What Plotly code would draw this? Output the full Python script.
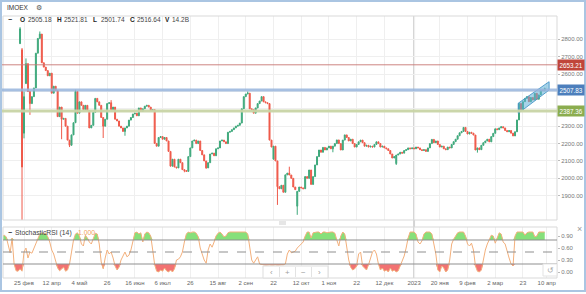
import numpy as np
import pandas as pd
import plotly.graph_objects as go

# ---------------- data ----------------
non_trading_days = ['2022-02-23', '2022-05-02', '2022-05-03', '2022-05-09', '2022-05-10',
                    '2022-06-13', '2022-11-04', '2023-01-02', '2023-02-23', '2023-03-08']
closure_start, closure_end = '2022-02-28', '2022-03-23'
first_day = '2022-02-09'

closes = [
    3780, 3760, 3620, 3440, 3590, 3600, 3490, 3470, 3100, 2860,
    2065, 2470, 2660, 2500, 2430, 2470, 2520, 2720, 2805, 2830,
    2665, 2640, 2620, 2590, 2605, 2490, 2530, 2505, 2355, 2410,
    2340, 2345, 2300, 2220, 2190, 2250, 2320, 2500, 2375, 2440,
    2420, 2395, 2420, 2390, 2290, 2305, 2380, 2460, 2440, 2420,
    2350, 2300, 2340, 2430, 2435, 2395, 2410, 2340, 2330, 2300,
    2290, 2270, 2290, 2300, 2335, 2350, 2370, 2375, 2360, 2405,
    2385, 2400, 2415, 2420, 2410, 2390, 2395, 2201, 2185, 2235,
    2240, 2225, 2235, 2215, 2155, 2070, 2110, 2065, 2060, 2110,
    2090, 2050, 2045, 2040, 2125, 2175, 2215, 2220, 2200, 2215,
    2160, 2135, 2100, 2060, 2090, 2140, 2145, 2130, 2170, 2175,
    2215, 2220, 2210, 2200, 2265, 2270, 2280, 2290, 2300, 2305,
    2318, 2400, 2470, 2485, 2490, 2400, 2395, 2375, 2405, 2430,
    2445, 2470, 2440, 2435, 2430, 2220, 2180, 2185, 2100, 1952,
    1940, 1960, 1920, 2020, 2030, 2019, 2000, 1950, 1935, 1925,
    1950, 1945, 1940, 2010, 2000, 2048, 1965, 2010, 2077, 2125,
    2163, 2150, 2178, 2163, 2175, 2185, 2170, 2185, 2200, 2221,
    2200, 2163, 2220, 2250, 2235, 2215, 2225, 2200, 2180, 2195,
    2210, 2220, 2205, 2185, 2190, 2180, 2185, 2180, 2195, 2210,
    2200, 2180, 2185, 2175, 2170, 2160, 2140, 2117, 2125, 2134,
    2140, 2150, 2145, 2160, 2165, 2175, 2170, 2175, 2170, 2180,
    2175, 2165, 2160, 2165, 2155, 2175, 2200, 2224, 2205, 2215,
    2195, 2180, 2185, 2170, 2165, 2180, 2175, 2195, 2211, 2225,
    2245, 2262, 2270, 2293, 2270, 2255, 2265, 2260, 2249, 2163,
    2175, 2165, 2190, 2205, 2215, 2225, 2210, 2240, 2259, 2285,
    2280, 2290, 2297, 2290, 2275, 2268, 2275, 2260, 2244, 2268,
    2336, 2431, 2393, 2441, 2460, 2470, 2441, 2465, 2451, 2489,
    2455, 2480, 2508, 2505.18, 2516.64,
]
open_overrides = {0: 3800, 9: 2775, 10: 2740, 11: 2260, 12: 2545, 137: 2110, 149: 1840, 199: 2085}
high_overrides = {9: 2870, 10: 2750, 11: 2500, 12: 2690, 19: 2845, 37: 2510, 55: 2450,
                  124: 2500, 145: 2067, 262: 2431, 274: 2521.81}
low_overrides = {10: 1681, 11: 2230, 14: 2365, 30: 2225, 34: 2180, 51: 2232, 62: 2245,
                 92: 2035, 103: 2055, 139: 1847, 149: 1790, 167: 2150, 199: 2077,
                 240: 2148, 274: 2501.74}
last_volume = '14.2B'

stoch_rsi = [
    0.90, 0.92, 0.88, 0.65, 0.48, 0.85, 0.20, 0.03, 0.02, 0.08,
    0.02, 0.50, 0.60, 0.35, 0.50, 0.47, 0.60, 0.72, 0.82, 0.95,
    0.98, 0.95, 0.97, 0.88, 0.75, 0.55, 0.45, 0.25, 0.10, 0.03,
    0.08, 0.12, 0.02, 0.05, 0.20, 0.55, 0.80, 0.95, 0.98, 0.90,
    0.70, 0.65, 0.92, 0.85, 0.75, 0.70, 0.82, 0.97, 0.95, 0.70,
    0.25, 0.08, 0.35, 0.55, 0.45, 0.50, 0.35, 0.15, 0.05, 0.12,
    0.30, 0.40, 0.50, 0.38, 0.42, 0.55, 0.80, 0.98, 1.00, 0.95,
    0.98, 0.75, 0.95, 1.00, 0.98, 0.90, 0.55, 0.18, 0.02, 0.00,
    0.05, 0.02, 0.10, 0.03, 0.00, 0.05, 0.00, 0.08, 0.30, 0.32,
    0.38, 0.50, 0.75, 0.95, 1.00, 0.98, 1.00, 1.00, 0.97, 0.88,
    0.60, 0.42, 0.30, 0.22, 0.55, 0.70, 0.62, 0.75, 0.90, 0.97,
    1.00, 0.95, 0.88, 0.90, 0.98, 1.00, 1.00, 1.00, 1.00, 1.00,
    1.00, 1.00, 1.00, 1.00, 0.95, 0.60, 0.30, 0.22, 0.30, 0.38,
    0.20, 0.18, 0.18, 0.17, 0.18, 0.18, 0.17, 0.18, 0.18, 0.17,
    0.18, 0.18, 0.18, 0.20, 0.45, 0.55, 0.48, 0.50, 0.52, 0.60,
    0.65, 0.70, 0.75, 0.90, 1.00, 1.00, 0.85, 0.98, 1.00, 1.00,
    1.00, 0.95, 1.00, 1.00, 0.98, 1.00, 1.00, 1.00, 0.97, 0.80,
    0.65, 0.90, 1.00, 0.95, 0.60, 0.30, 0.12, 0.05, 0.08, 0.15,
    0.45, 0.50, 0.15, 0.10, 0.05, 0.18, 0.35, 0.50, 0.55, 0.45,
    0.20, 0.05, 0.10, 0.02, 0.05, 0.00, 0.10, 0.02, 0.05, 0.00,
    0.03, 0.15, 0.25, 0.40, 0.60, 0.85, 1.00, 1.00, 1.00, 0.95,
    0.75, 0.70, 0.78, 0.95, 1.00, 1.00, 1.00, 0.95, 0.70, 0.45,
    0.05, 0.00, 0.15, 0.10, 0.00, 0.05, 0.30, 0.70, 0.82, 0.90,
    0.98, 1.00, 1.00, 1.00, 0.90, 0.70, 0.65, 0.72, 0.55, 0.15,
    0.02, 0.00, 0.05, 0.35, 0.55, 0.70, 0.80, 0.92, 0.90, 0.72,
    0.85, 0.98, 0.95, 0.75, 0.70, 0.50, 0.35, 0.20, 0.15, 0.90,
    1.00, 1.00, 1.00, 1.00, 0.92, 0.98, 1.00, 1.00, 1.00, 0.88,
    0.90, 1.00, 1.00, 1.00, 1.000,
]
stoch_levels = [0.8, 0.5, 0.2]

price_levels = [2653.21, 2507.83, 2387.36]
level_line_colors = ['rgba(200,120,115,0.9)', 'rgba(150,180,220,0.85)', 'rgba(200,212,165,0.95)']
level_line_widths = [1, 3, 3]
level_box_colors = ['#c0453a', '#4d7fbc', '#8bad4f']

channel_x = [260.6, 276.2]
channel_low = [2374, 2508]
channel_high = [2432, 2556]

tick_dates = ['2022-02-25', '2022-04-12', '2022-05-04', '2022-05-26', '2022-06-16', '2022-07-06',
              '2022-07-26', '2022-08-15', '2022-09-02', '2022-09-22', '2022-10-12', '2022-11-01',
              '2022-11-22', '2022-12-12', '2023-01-03', '2023-01-20', '2023-02-09', '2023-03-02',
              '2023-03-23', '2023-04-10']
tick_text = ['25 фев', '12 апр', '4 май', '26', '16 июн', '6 июл', '26', '15 авг', '2 сен', '22',
             '12 окт', '1 ноя', '22', '12 дек', '2023', '20 янв', '9 фев', '2 мар', '23', '10 апр']
year_break = '2023-01-03'
price_ticks = [1900, 2000, 2100, 2200, 2300, 2400, 2500, 2600, 2700, 2800]
stoch_ticks = [0.0, 0.3, 0.6, 0.9]

# ---------------- derived ----------------
closed = set(pd.to_datetime(non_trading_days)) | set(pd.bdate_range(closure_start, closure_end))
cal = [d for d in pd.bdate_range(first_day, '2023-04-28') if d not in closed]
pos = {d.strftime('%Y-%m-%d'): i for i, d in enumerate(cal)}

n = len(closes)
xi = np.arange(n)
c = np.array(closes, dtype=float)
o = np.concatenate([[c[0]], c[:-1]])
for k, v in open_overrides.items():
    o[k] = v
h = np.maximum(o, c)
lo = np.minimum(o, c)
for k, v in high_overrides.items():
    h[k] = v
for k, v in low_overrides.items():
    lo[k] = v

s = np.array(stoch_rsi, dtype=float)
sx = np.arange(len(s))

# ---------------- geometry helpers ----------------
W, H = 586, 294
L, R, T, B = 3, 557, 16, 278
PW, PH = R - L, B - T


def px(xp):
    return (xp - L) / PW


def py(yp):
    return (B - yp) / PH


GREEN = '#3fa97c'
RED = '#ef5a4b'
FONT = 'Liberation Sans, Arial, sans-serif'

fig = go.Figure()

fig.add_trace(go.Candlestick(
    x=xi, open=o, high=h, low=lo, close=c,
    increasing=dict(line=dict(color=GREEN, width=1), fillcolor=GREEN),
    decreasing=dict(line=dict(color=RED, width=1), fillcolor=RED),
    whiskerwidth=0, showlegend=False, hoverinfo='skip', xaxis='x', yaxis='y'))

# channel drawing
fig.add_trace(go.Scatter(
    x=[channel_x[0], channel_x[1], channel_x[1], channel_x[0], channel_x[0]],
    y=[channel_low[0], channel_low[1], channel_high[1], channel_high[0], channel_low[0]],
    mode='lines', fill='toself', fillcolor='rgba(95,175,215,0.55)',
    line=dict(color='rgba(70,150,200,0.9)', width=1),
    showlegend=False, hoverinfo='skip', xaxis='x', yaxis='y'))

# stoch fills
up, mid, dn = stoch_levels
fig.add_trace(go.Scatter(x=sx, y=np.full(len(s), up), mode='lines', line=dict(width=0),
                         showlegend=False, hoverinfo='skip', xaxis='x2', yaxis='y2'))
fig.add_trace(go.Scatter(x=sx, y=np.maximum(s, up), mode='lines', line=dict(width=0),
                         fill='tonexty', fillcolor='#86e07a',
                         showlegend=False, hoverinfo='skip', xaxis='x2', yaxis='y2'))
fig.add_trace(go.Scatter(x=sx, y=np.full(len(s), dn), mode='lines', line=dict(width=0),
                         showlegend=False, hoverinfo='skip', xaxis='x2', yaxis='y2'))
fig.add_trace(go.Scatter(x=sx, y=np.minimum(s, dn), mode='lines', line=dict(width=0),
                         fill='tonexty', fillcolor='#f27272',
                         showlegend=False, hoverinfo='skip', xaxis='x2', yaxis='y2'))
fig.add_trace(go.Scatter(x=sx, y=s, mode='lines', line=dict(color='#f3b07c', width=1),
                         showlegend=False, hoverinfo='skip', xaxis='x2', yaxis='y2'))

tickvals = [pos[d] for d in tick_dates]
x_left = 11 + (L - 24) / 1.98
x_right = 11 + (R - 24) / 1.98
price_top = 2800 + (39.3 - T) * 5.754
price_bot = 2800 - (220 - 39.3) * 5.754

main_dom = [py(220), 1]
st_dom = [0, py(227)]


def price_label(v):
    # labels hidden behind the level boxes are left blank
    for lvl in price_levels:
        if abs(v - lvl) < 30:
            return ''
    return f'{v:.2f}'


fig.update_layout(
    width=W, height=H, margin=dict(l=L, r=W - R, t=T, b=H - B),
    paper_bgcolor='white', plot_bgcolor='white',
    font=dict(family=FONT, size=6, color='#666'),
    showlegend=False,
    xaxis=dict(domain=[0, 1], range=[x_left, x_right], anchor='y',
               tickvals=tickvals, showticklabels=False, ticks='',
               showgrid=True, gridcolor='#efefef', gridwidth=1, zeroline=False,
               rangeslider=dict(visible=False)),
    xaxis2=dict(domain=[0, 1], range=[x_left, x_right], anchor='y2', matches='x',
                tickvals=tickvals, ticktext=tick_text, ticks='',
                tickfont=dict(size=6, color='#666'),
                showgrid=True, gridcolor='#efefef', zeroline=False),
    yaxis=dict(domain=main_dom, range=[price_bot, price_top], side='right', anchor='x',
               tickvals=price_ticks, ticktext=[price_label(v) for v in price_ticks],
               ticks='outside', ticklen=2, tickcolor='#bbb',
               tickfont=dict(size=6, color='#777'),
               showgrid=True, gridcolor='#efefef', zeroline=False),
    yaxis2=dict(domain=st_dom, range=[-0.15, 1.125], side='right', anchor='x2',
                tickvals=stoch_ticks, ticktext=[f'{v:.2f}' for v in stoch_ticks],
                ticks='outside', ticklen=2, tickcolor='#bbb',
                tickfont=dict(size=6, color='#777'),
                showgrid=False, zeroline=False),
)

shapes = []
# pane borders
for y0, y1 in [(16, 220), (227, 278)]:
    shapes.append(dict(type='rect', xref='paper', yref='paper', x0=px(L), x1=px(R),
                       y0=py(y1), y1=py(y0), line=dict(color='#d9d9d9', width=1),
                       fillcolor='rgba(0,0,0,0)', layer='above'))
# year separator
shapes.append(dict(type='line', xref='x', yref='paper', x0=pos[year_break], x1=pos[year_break],
                   y0=0, y1=1, line=dict(color='#d4d4d4', width=2), layer='below'))
# price levels
for lvl, col, wd in zip(price_levels, level_line_colors, level_line_widths):
    shapes.append(dict(type='line', xref='paper', yref='y', x0=px(0), x1=1, y0=lvl, y1=lvl,
                       line=dict(color=col, width=wd), layer='above'))
# stoch levels
for lvl, dash in zip(stoch_levels, ['solid', 'dash', 'solid']):
    shapes.append(dict(type='line', xref='paper', yref='y2', x0=0, x1=1, y0=lvl, y1=lvl,
                       line=dict(color='#8f8f8f', width=1, dash=dash), layer='above'))
# resize handle
shapes.append(dict(type='rect', xref='paper', yref='paper', x0=px(279), x1=px(286),
                   y0=py(225), y1=py(221), fillcolor='#e6e6e6', line=dict(width=0)))
# navigation widget
shapes.append(dict(type='rect', xref='paper', yref='paper', x0=px(263), x1=px(328),
                   y0=py(278), y1=py(266), fillcolor='white', line=dict(color='#dddddd', width=1),
                   layer='above'))
for sxp in [279.5, 295.5, 311.5]:
    shapes.append(dict(type='line', xref='paper', yref='paper', x0=px(sxp), x1=px(sxp),
                       y0=py(277), y1=py(267), line=dict(color='#e3e3e3', width=1), layer='above'))
# reset button
shapes.append(dict(type='rect', xref='paper', yref='paper', x0=px(543), x1=px(557),
                   y0=py(276), y1=py(264), fillcolor='white', line=dict(color='#e3e3e3', width=1),
                   layer='above'))
# outer frame
shapes.append(dict(type='rect', xref='paper', yref='paper', x0=px(1), x1=px(585),
                   y0=py(291), y1=py(1), line=dict(color='#aac5e2', width=2),
                   fillcolor='rgba(0,0,0,0)', layer='above'))
fig.update_layout(shapes=shapes)

ann = []


def txt(xp, yp, text, size=6.5, color='#333', anchor='left', bold=False):
    ann.append(dict(xref='paper', yref='paper', x=px(xp), y=py(yp), text=f'<b>{text}</b>' if bold else text,
                    showarrow=False, xanchor=anchor, yanchor='middle',
                    font=dict(family=FONT, size=size, color=color)))


txt(5, 8, 'IMOEX', size=6.5, color='#333')
txt(34, 8, '⚙', size=7, color='#555')
txt(6, 19.5, '−', size=7, color='#222', bold=True)
last = n - 1
ohlc = [('O', o[last], 18), ('H', h[last], 54.5), ('L', lo[last], 91), ('C', c[last], 127.5)]
for lab, val, xp in ohlc:
    txt(xp, 19.5, lab, size=6.5, color='#222', bold=True)
    txt(xp + 7.5, 19.5, f'{val:.2f}', size=6.5, color='#444')
txt(163, 19.5, 'V', size=6.5, color='#222', bold=True)
txt(170, 19.5, last_volume, size=6.5, color='#444')

txt(6, 232.5, '−', size=7, color='#222', bold=True)
txt(13, 232.5, 'StochasticRSI (14)', size=6.8, color='#444')
txt(76, 232.5, f'{s[-1]:.3f}', size=6.8, color='#f0a060')

for lvl, col in zip(price_levels, level_box_colors):
    ann.append(dict(xref='paper', yref='y', x=1, y=lvl, text=f'{lvl:.2f}', showarrow=False,
                    xanchor='left', yanchor='middle', bgcolor=col, borderpad=1.5,
                    font=dict(family=FONT, size=6.3, color='white')))

for xp, g in [(271.3, '‹'), (287.5, '+'), (303.5, '−'), (319.5, '›')]:
    txt(xp, 272, g, size=8, color='#a0a0a0', anchor='center')
txt(550, 270, '↺', size=7.5, color='#aaa', anchor='center')
txt(579.5, 229, '×', size=9, color='#999', anchor='center')

fig.update_layout(annotations=ann)
fig.write_html('out.html')
